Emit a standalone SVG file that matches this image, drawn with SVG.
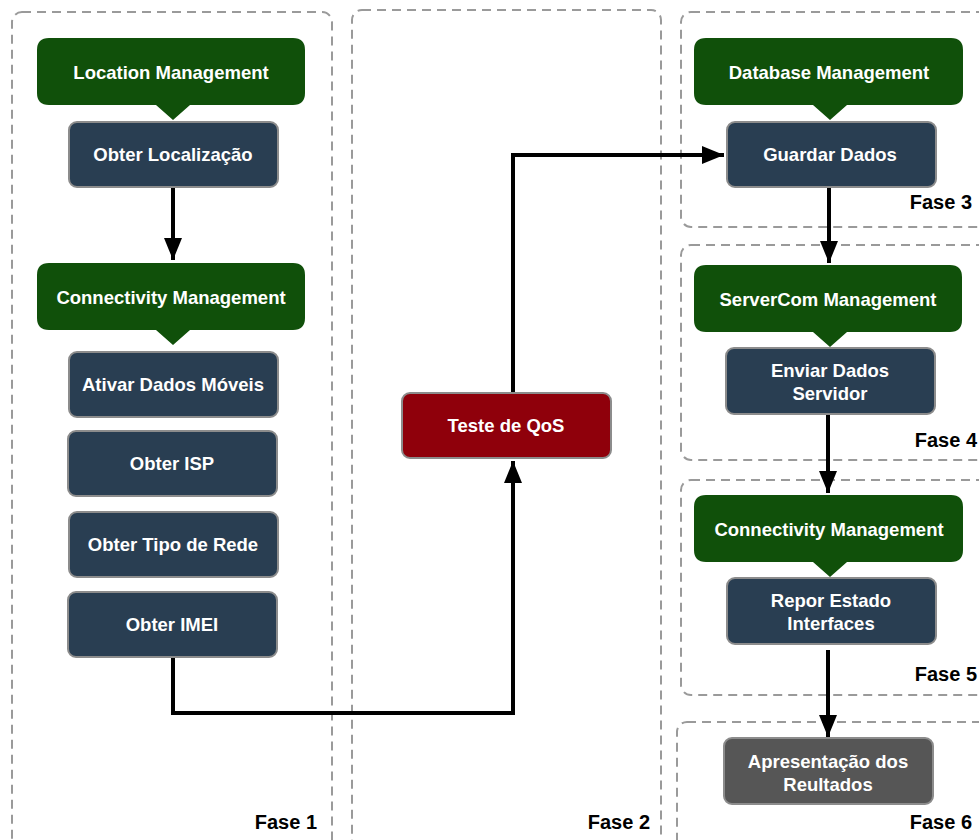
<svg xmlns="http://www.w3.org/2000/svg" width="979" height="840" viewBox="0 0 979 840">
<style>
.phase{fill:none;stroke:#9a9a9a;stroke-width:2;stroke-dasharray:9,6}
.mgr{fill:#10500a}
.task{fill:#293e52;stroke:#8c8c8c;stroke-width:2}
.qos{fill:#8f000b;stroke:#8c8c8c;stroke-width:2}
.res{fill:#565656;stroke:#8c8c8c;stroke-width:2}
.t{font-family:"Liberation Sans",Arial,sans-serif;font-weight:bold;font-size:18.5px;fill:#fff;text-anchor:middle}
.f{font-family:"Liberation Sans",Arial,sans-serif;font-weight:bold;font-size:20px;fill:#000;text-anchor:end}
.c{fill:none;stroke:#000;stroke-width:4;marker-end:url(#ah)}
</style>
<defs>
<marker id="ah" markerUnits="userSpaceOnUse" markerWidth="24" markerHeight="24" viewBox="0 0 24 24" refX="22" refY="12" orient="auto">
<path d="M0,3 L22,12 L0,21 Z" fill="#000"/>
</marker>
</defs>
<rect width="979" height="840" fill="#fff"/>
<g id="phases">
<rect class="phase" x="12" y="12" width="320" height="840" rx="10"/>
<rect class="phase" x="352" y="10" width="309" height="842" rx="10"/>
<rect class="phase" x="681" y="12" width="320" height="215" rx="10"/>
<rect class="phase" x="681" y="245" width="320" height="215" rx="10"/>
<rect class="phase" x="681" y="480" width="320" height="215" rx="10"/>
<rect class="phase" x="677" y="722" width="324" height="130" rx="10"/>
<text class="f" x="317" y="829">Fase 1</text>
<text class="f" x="650" y="829">Fase 2</text>
<text class="f" x="972" y="209">Fase 3</text>
<text class="f" x="977" y="447">Fase 4</text>
<text class="f" x="977" y="681">Fase 5</text>
<text class="f" x="972" y="829">Fase 6</text>
</g>
<g id="connectors">
<path class="c" d="M173,187 V260"/>
<path class="c" d="M173,658 V713 H513 V461"/>
<path class="c" d="M513,393 V155 H724"/>
<path class="c" d="M829,187 V263"/>
<path class="c" d="M828,414 V493"/>
<path class="c" d="M828,650 V737"/>
</g>
<g id="location-management">
<path class="mgr" d="M49,38 H293 Q305,38 305,50 V93 Q305,105 293,105 H190 L173,120 L156,105 H49 Q37,105 37,93 V50 Q37,38 49,38 Z"/>
<text class="t" x="171" y="79">Location Management</text>
</g>
<g id="obter-localizacao">
<rect class="task" x="69" y="122" width="209" height="65" rx="8"/>
<text class="t" x="173" y="161">Obter Localização</text>
</g>
<g id="connectivity-management-1">
<path class="mgr" d="M49,263 H293 Q305,263 305,275 V318 Q305,330 293,330 H190 L173,345 L156,330 H49 Q37,330 37,318 V275 Q37,263 49,263 Z"/>
<text class="t" x="171" y="304">Connectivity Management</text>
</g>
<g id="ativar-dados-moveis">
<rect class="task" x="69" y="352" width="209" height="65" rx="8"/>
<text class="t" x="173" y="391">Ativar Dados Móveis</text>
</g>
<g id="obter-isp">
<rect class="task" x="68" y="431" width="209" height="65" rx="8"/>
<text class="t" x="172" y="470">Obter ISP</text>
</g>
<g id="obter-tipo-de-rede">
<rect class="task" x="69" y="512" width="209" height="65" rx="8"/>
<text class="t" x="173" y="551">Obter Tipo de Rede</text>
</g>
<g id="obter-imei">
<rect class="task" x="68" y="592" width="209" height="65" rx="8"/>
<text class="t" x="172" y="631">Obter IMEI</text>
</g>
<g id="teste-de-qos">
<rect class="qos" x="402" y="393" width="209" height="65" rx="8"/>
<text class="t" x="506" y="432">Teste de QoS</text>
</g>
<g id="database-management">
<path class="mgr" d="M706,38 H951 Q963,38 963,50 V93 Q963,105 951,105 H847 L830,120 L813,105 H706 Q694,105 694,93 V50 Q694,38 706,38 Z"/>
<text class="t" x="829" y="79">Database Management</text>
</g>
<g id="guardar-dados">
<rect class="task" x="727" y="122" width="209" height="65" rx="8"/>
<text class="t" x="830" y="161">Guardar Dados</text>
</g>
<g id="servercom-management">
<path class="mgr" d="M706,265 H950 Q962,265 962,277 V320 Q962,332 950,332 H847 L830,347 L813,332 H706 Q694,332 694,320 V277 Q694,265 706,265 Z"/>
<text class="t" x="828" y="306">ServerCom Management</text>
</g>
<g id="enviar-dados-servidor">
<rect class="task" x="726" y="348" width="209" height="66" rx="8"/>
<text class="t" x="830" y="377">Enviar Dados</text>
<text class="t" x="830" y="400">Servidor</text>
</g>
<g id="connectivity-management-2">
<path class="mgr" d="M706,495 H951 Q963,495 963,507 V550 Q963,562 951,562 H847 L830,577 L813,562 H706 Q694,562 694,550 V507 Q694,495 706,495 Z"/>
<text class="t" x="829" y="536">Connectivity Management</text>
</g>
<g id="repor-estado-interfaces">
<rect class="task" x="727" y="578" width="209" height="66" rx="8"/>
<text class="t" x="831" y="607">Repor Estado</text>
<text class="t" x="831" y="630">Interfaces</text>
</g>
<g id="apresentacao-resultados">
<rect class="res" x="724" y="738" width="209" height="66" rx="8"/>
<text class="t" x="828" y="768">Apresentação dos</text>
<text class="t" x="828" y="791">Reultados</text>
</g>
</svg>
